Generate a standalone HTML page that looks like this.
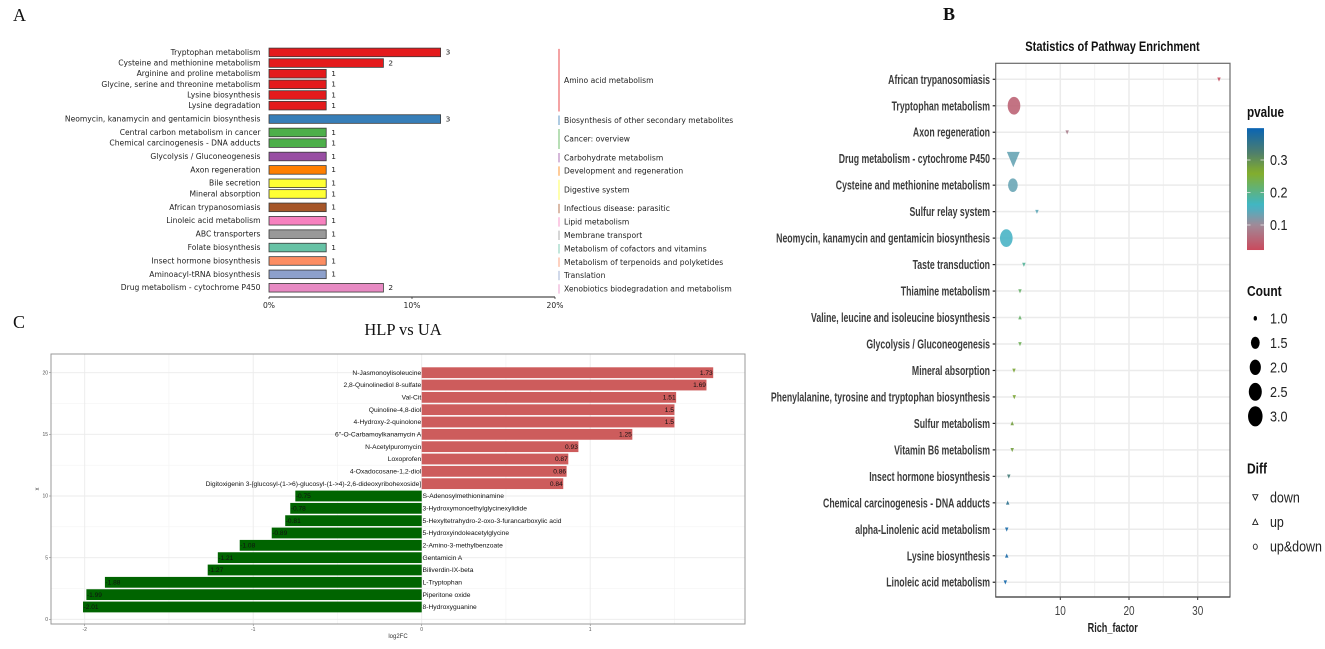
<!DOCTYPE html>
<html lang="en">
<head>
<meta charset="utf-8">
<title>Metabolic pathway figure</title>
<style>
html,body{margin:0;padding:0;background:#fff;width:1325px;height:649px;overflow:hidden}
svg{display:block;filter:blur(.3px)}
text{font-family:"Liberation Sans",sans-serif}
.dj{font-family:"DejaVu Sans",sans-serif;fill:#222}
.sf{font-family:"Liberation Serif",serif;fill:#111}
</style>
</head>
<body>
<svg id="fig" xmlns="http://www.w3.org/2000/svg" width="1325" height="649" viewBox="0 0 1325 649">
  <text class="sf" x="13" y="21" font-size="18">A</text>
  <text class="sf" x="943" y="20" font-size="18" font-weight="bold">B</text>
  <text class="sf" x="13" y="328" font-size="18">C</text>
  <g id="panelA"></g>
  <g id="panelC"></g>
  <g id="panelB"></g>
</svg>
<script>
/* ---------- Panel A data ---------- */
const aNames = ["Tryptophan metabolism","Cysteine and methionine metabolism","Arginine and proline metabolism","Glycine, serine and threonine metabolism","Lysine biosynthesis","Lysine degradation","Neomycin, kanamycin and gentamicin biosynthesis","Central carbon metabolism in cancer","Chemical carcinogenesis - DNA adducts","Glycolysis / Gluconeogenesis","Axon regeneration","Bile secretion","Mineral absorption","African trypanosomiasis","Linoleic acid metabolism","ABC transporters","Folate biosynthesis","Insect hormone biosynthesis","Aminoacyl-tRNA biosynthesis","Drug metabolism - cytochrome P450"];
const aCounts = [3,2,1,1,1,1,3,1,1,1,1,1,1,1,1,1,1,1,1,2];
const aTotal = 25;
const aRowGroup = [0,0,0,0,0,0,1,2,2,3,4,5,5,6,7,8,9,10,11,12];
const aGroups = ["Amino acid metabolism","Biosynthesis of other secondary metabolites","Cancer: overview","Carbohydrate metabolism","Development and regeneration","Digestive system","Infectious disease: parasitic","Lipid metabolism","Membrane transport","Metabolism of cofactors and vitamins","Metabolism of terpenoids and polyketides","Translation","Xenobiotics biodegradation and metabolism"];
const aGroupColors = ["#e41a1c","#377eb8","#4daf4a","#984ea3","#ff7f00","#ffff33","#a65628","#f781bf","#999999","#66c2a5","#fc8d62","#8da0cb","#e78ac3"];
const aTicks = [0,10,20];

/* ---------- Panel C data ---------- */
const cNames = ["8-Hydroxyguanine","Piperitone oxide","L-Tryptophan","Biliverdin-IX-beta","Gentamicin A","2-Amino-3-methylbenzoate","5-Hydroxyindoleacetylglycine","5-Hexyltetrahydro-2-oxo-3-furancarboxylic acid","3-Hydroxymonoethylglycinexylidide","S-Adenosylmethioninamine","Digitoxigenin 3-[glucosyl-(1->6)-glucosyl-(1->4)-2,6-dideoxyribohexoside]","4-Oxadocosane-1,2-diol","Loxoprofen","N-Acetylpuromycin","6''-O-Carbamoylkanamycin A","4-Hydroxy-2-quinolone","Quinoline-4,8-diol","Val-Cit","2,8-Quinolinediol 8-sulfate","N-Jasmonoylisoleucine"];
const cValues = [-2.01,-1.99,-1.88,-1.27,-1.21,-1.08,-0.89,-0.81,-0.78,-0.75,0.84,0.86,0.87,0.93,1.25,1.5,1.5,1.51,1.69,1.73];
const cXTicks = [-2,-1,0,1];
const cYTicks = [0,5,10,15,20];

/* ---------- Panel B data ---------- */
const bNames = ["African trypanosomiasis","Tryptophan metabolism","Axon regeneration","Drug metabolism - cytochrome P450","Cysteine and methionine metabolism","Sulfur relay system","Neomycin, kanamycin and gentamicin biosynthesis","Taste transduction","Thiamine metabolism","Valine, leucine and isoleucine biosynthesis","Glycolysis / Gluconeogenesis","Mineral absorption","Phenylalanine, tyrosine and tryptophan biosynthesis","Sulfur metabolism","Vitamin B6 metabolism","Insect hormone biosynthesis","Chemical carcinogenesis - DNA adducts","alpha-Linolenic acid metabolism","Lysine biosynthesis","Linoleic acid metabolism"];
const bRich = [33.1,3.26,11.0,3.16,3.1,6.6,2.14,4.7,4.13,4.13,4.13,3.26,3.3,3.0,3.0,2.5,2.34,2.2,2.2,2.0];
const bPvalue = [0.03,0.05,0.085,0.135,0.135,0.14,0.155,0.19,0.22,0.22,0.23,0.27,0.27,0.28,0.28,0.335,0.36,0.385,0.385,0.39];
const bCount = [1,3,1,2,2,1,3,1,1,1,1,1,1,1,1,1,1,1,1,1];
const bDiff = ["down","updown","down","down","updown","down","updown","down","down","up","down","down","down","up","down","down","up","down","up","down"];
const bXTicks = [10,20,30];
const bMinorTicks = [5,15,25];
const pTicks = [0.1,0.2,0.3];
const countLegend = [1,1.5,2,2.5,3];
const diffLegend = ["down","up","up&down"];

/* ---------- helpers ---------- */
const NS = "http://www.w3.org/2000/svg";
function mk(tag, attrs, parent, text){
  const e = document.createElementNS(NS, tag);
  for (const k in attrs) e.setAttribute(k, attrs[k]);
  if (text !== undefined) e.textContent = text;
  parent.appendChild(e);
  return e;
}
const pA = document.getElementById("panelA");
const pB = document.getElementById("panelB");
const pC = document.getElementById("panelC");
let el;

/* ---------- Panel A ---------- */
const xA = p => 269 + p * 14.3;
const yA = i => 52.3 + i * 10.65 + aRowGroup[i] * 2.75;

aNames.forEach((name, i) => {
  const y = yA(i);
  const pct = aCounts[i] / aTotal * 100;
  const col = aGroupColors[aRowGroup[i]];
  el = mk("text", {class:"dj", x:260.5, y:y + 2.5, "font-size":7.6, "text-anchor":"end"}, pA, name);
  
  
  el = mk("rect", {x:xA(0), y:y - 4.2, width:xA(pct) - xA(0), height:8.6, fill:col, stroke:"#3a3a3a", "stroke-width":0.8}, pA);
  
  
  el = mk("text", {class:"dj", x:xA(pct) + 5, y:y + 2.4, "font-size":7.4}, pA, aCounts[i]);
  
  
});

el = mk("line", {x1:xA(0), x2:xA(20), y1:297, y2:297, stroke:"#222", "stroke-width":1}, pA);


aTicks.forEach(t => {
  el = mk("line", {x1:xA(t), x2:xA(t), y1:297, y2:299, stroke:"#222", "stroke-width":0.7}, pA);
  
  
  el = mk("text", {class:"dj", x:xA(t), y:308, "font-size":7.6, "text-anchor":"middle"}, pA, t + "%");
  
  
});

aGroups.forEach((g, gi) => {
  const rows = aRowGroup.map((v, i) => v === gi ? i : -1).filter(i => i >= 0);
  const top = yA(rows[0]) - 3.4;
  const bot = yA(rows[rows.length - 1]) + 6;
  el = mk("line", {x1:559, x2:559, y1:top, y2:bot, stroke:aGroupColors[gi], "stroke-width":1, opacity:0.8}, pA);
  
  
  el = mk("text", {class:"dj", x:564, y:(top + bot) / 2 + 2.6, "font-size":7.6}, pA, g);
  
  
});

/* ---------- Panel C ---------- */
const xC = v => 421.7 + v * 168.5;
const yC = v => 619.3 - v * 12.33;
const cL = 51, cR = 745, cT = 354, cB = 624;

el = mk("text", {class:"sf", x:403, y:335, "font-size":16.5, "text-anchor":"middle"}, pC, "HLP vs UA");



[-1.5,-0.5,0.5,1.5].forEach(v => {
  el = mk("line", {x1:xC(v), x2:xC(v), y1:cT, y2:cB, stroke:"#f3f3f3", "stroke-width":0.6}, pC);
  
  
});
[2.5,7.5,12.5,17.5].forEach(v => {
  el = mk("line", {x1:cL, x2:cR, y1:yC(v), y2:yC(v), stroke:"#f3f3f3", "stroke-width":0.6}, pC);
  
  
});
cXTicks.forEach(t => {
  el = mk("line", {x1:xC(t), x2:xC(t), y1:cT, y2:cB, stroke:"#ebebeb", "stroke-width":0.9}, pC);
  
  
  el = mk("line", {x1:xC(t), x2:xC(t), y1:cB, y2:cB + 2, stroke:"#666", "stroke-width":0.5}, pC);
  
  
  el = mk("text", {x:xC(t), y:631, "font-size":5, fill:"#555", "text-anchor":"middle"}, pC, t);
  
  
});
cYTicks.forEach(t => {
  el = mk("line", {x1:cL, x2:cR, y1:yC(t), y2:yC(t), stroke:"#ebebeb", "stroke-width":0.9}, pC);
  
  
  el = mk("line", {x1:cL - 2, x2:cL, y1:yC(t), y2:yC(t), stroke:"#666", "stroke-width":0.5}, pC);
  
  
  el = mk("text", {x:cL - 3, y:yC(t) + 1.7, "font-size":5, fill:"#555", "text-anchor":"end"}, pC, t);
  
  
});

cValues.forEach((v, i) => {
  const y = yC(i + 1);
  const x0 = Math.min(xC(0), xC(v));
  const w = Math.abs(xC(v) - xC(0));
  el = mk("rect", {x:x0, y:y - 5.4, width:w, height:10.8, fill:v < 0 ? "#006400" : "#cd5c5c"}, pC);
  
  
  el = mk("text", {x:v < 0 ? xC(v) + 0.5 : xC(v) - 0.5, y:y + 2.2, "font-size":6.6, fill:"#111", "text-anchor":v < 0 ? "start" : "end"}, pC, Math.abs(v) === 1.5 ? "1.5" : (v < 0 ? "-" : "") + Math.abs(v).toFixed(2));
  
  
  el = mk("text", {x:v < 0 ? xC(0) + 0.8 : xC(0) - 0.5, y:y + 2.2, "font-size":6.7, fill:"#111", "text-anchor":v < 0 ? "start" : "end"}, pC, cNames[i]);
  
  
});

el = mk("rect", {x:cL, y:cT, width:cR - cL, height:cB - cT, fill:"none", stroke:"#999", "stroke-width":1}, pC);


el = mk("text", {x:398, y:638, "font-size":6, fill:"#333", "text-anchor":"middle"}, pC, "log2FC");


el = mk("text", {x:0, y:0, "font-size":6, fill:"#333", "text-anchor":"middle", transform:"translate(39,489) rotate(-90)"}, pC, "x");



/* ---------- Panel B ---------- */
const xB = v => 991.6 + v * 6.87;
const yB = i => 79.3 + i * 26.47;
const yP = p => 225 - (p - 0.1) * 325;
const bL = 995.7, bR = 1230, bT = 63.3, bB = 597;

function hex2(h){ return [1,3,5].map(k => parseInt(h.substr(k,2),16)); }
function pColor(p){
  const st = [[0.023,"#ca4a5d"],[0.1,"#a08a98"],[0.16,"#3eb6c8"],[0.26,"#84ae2a"],[0.32,"#50806a"],[0.398,"#0a64b4"]];
  for (let i = 1; i < st.length; i++){
    if (p <= st[i][0]){
      const t = Math.max(0, (p - st[i-1][0]) / (st[i][0] - st[i-1][0]));
      const a = hex2(st[i-1][1]), b = hex2(st[i][1]);
      return "rgb(" + a.map((c, k) => Math.round(c + (b[k] - c) * t)).join(",") + ")";
    }
  }
  return st[st.length - 1][1];
}
const rCount = c => 1.3 + 3.55 * Math.sqrt(c - 1);
function sx(parent, x, y, sclx, txt, attrs){
  return mk("text", Object.assign({x:0, y:0, transform:"translate(" + x + "," + y + ") scale(" + sclx + ",1)"}, attrs), parent, txt);
}

el = sx(pB, 1112.5, 51, 0.79, "Statistics of Pathway Enrichment", {"font-size":14, "font-weight":"bold", fill:"#111", "text-anchor":"middle"});



bMinorTicks.forEach(t => {
  el = mk("line", {x1:xB(t), x2:xB(t), y1:bT, y2:bB, stroke:"#f2f2f2", "stroke-width":1}, pB);
  
  
});
bXTicks.forEach(t => {
  el = mk("line", {x1:xB(t), x2:xB(t), y1:bT, y2:bB, stroke:"#ebebeb", "stroke-width":1.5}, pB);
  
  
  el = mk("line", {x1:xB(t), x2:xB(t), y1:bB, y2:bB + 3, stroke:"#333", "stroke-width":1}, pB);
  
  
  el = sx(pB, xB(t), 615, 0.8, t, {"font-size":12.5, fill:"#444", "text-anchor":"middle"});
  
  
});

bNames.forEach((name, i) => {
  const y = yB(i);
  el = mk("line", {x1:bL, x2:bR, y1:y, y2:y, stroke:"#ebebeb", "stroke-width":1.5}, pB);
  
  
  el = mk("line", {x1:bL - 3, x2:bL, y1:y, y2:y, stroke:"#222", "stroke-width":1.2}, pB);
  
  
  el = sx(pB, 990, y + 4.5, 0.672, name, {"font-size":13, "font-weight":"bold", fill:"#3c3c3c", "text-anchor":"end"});
  
  
});

bNames.forEach((name, i) => {
  const x = xB(bRich[i]), y = yB(i), r = rCount(bCount[i]), c = pColor(bPvalue[i]);
  if (bDiff[i] === "updown"){
    el = mk("ellipse", {cx:x, cy:y, rx:r, ry:r * 1.4, fill:c, opacity:0.88}, pB);
  } else if (bDiff[i] === "down"){
    el = mk("polygon", {points:[x - r * 1.33, y - r * 1.4, x + r * 1.33, y - r * 1.4, x, y + r * 1.75].join(" "), fill:c, opacity:0.9}, pB);
  } else {
    el = mk("polygon", {points:[x - r * 1.33, y + r * 1.4, x + r * 1.33, y + r * 1.4, x, y - r * 1.75].join(" "), fill:c, opacity:0.9}, pB);
  }
  
  
});

el = mk("rect", {x:bL, y:bT, width:bR - bL, height:bB - bT, fill:"none", stroke:"#6a6a6a", "stroke-width":1.2}, pB);


el = mk("line", {x1:bL, x2:bR, y1:bB, y2:bB, stroke:"#444", "stroke-width":1.3}, pB);


el = sx(pB, 1112.7, 632, 0.73, "Rich_factor", {"font-size":12.5, "font-weight":"bold", fill:"#222", "text-anchor":"middle"});



/* legends */
el = sx(pB, 1247, 117, 0.78, "pvalue", {"font-size":15, "font-weight":"bold", fill:"#111"});



const defs = mk("defs", {}, pB);
const grad = mk("linearGradient", {id:"pgrad", x1:0, y1:1, x2:0, y2:0}, defs);
for (let k = 0; k <= 24; k++){
  const p = 0.023 + (0.398 - 0.023) * k / 24;
  mk("stop", {offset:(k / 24), "stop-color":pColor(p)}, grad);
}
el = mk("rect", {x:1247, y:yP(0.398), width:17, height:yP(0.023) - yP(0.398), fill:"url(#pgrad)"}, pB);


pTicks.forEach(t => {
  el = mk("line", {x1:1247, x2:1250.5, y1:yP(t), y2:yP(t), stroke:"#e8e8e8", "stroke-width":0.8}, pB);
  
  
  el = mk("line", {x1:1260.5, x2:1264, y1:yP(t), y2:yP(t), stroke:"#e8e8e8", "stroke-width":0.8}, pB);
  
  
  el = sx(pB, 1270, yP(t) + 5.2, 0.87, t.toFixed(1), {"font-size":14.5, fill:"#222"});
  
  
});

el = sx(pB, 1247, 296, 0.8, "Count", {"font-size":15, "font-weight":"bold", fill:"#111"});


countLegend.forEach((c, i) => {
  const y = 318.3 + i * 24.5;
  const r = Math.max(1.7, rCount(c) * 1.15);
  el = mk("ellipse", {cx:1255.3, cy:y, rx:r, ry:r * 1.38, fill:"#000"}, pB);
  
  
  el = sx(pB, 1270, y + 5.2, 0.87, c.toFixed(1), {"font-size":14.5, fill:"#222"});
  
  
});

el = sx(pB, 1247, 473.5, 0.8, "Diff", {"font-size":15, "font-weight":"bold", fill:"#111"});


diffLegend.forEach((d, i) => {
  const y = 497.3 + i * 24.7, x = 1255.3;
  const st = {fill:"none", stroke:"#222", "stroke-width":0.9};
  if (i === 0) el = mk("polygon", Object.assign({points:[x - 2.6, y - 2.6, x + 2.6, y - 2.6, x, y + 2.8].join(" ")}, st), pB);
  else if (i === 1) el = mk("polygon", Object.assign({points:[x - 2.6, y + 2.6, x + 2.6, y + 2.6, x, y - 2.8].join(" ")}, st), pB);
  else el = mk("ellipse", Object.assign({cx:x, cy:y, rx:2, ry:2.6}, st), pB);
  
  
  el = sx(pB, 1270, y + 5, 0.86, d, {"font-size":14.5, fill:"#222"});
  
  
});
</script>
</body>
</html>
